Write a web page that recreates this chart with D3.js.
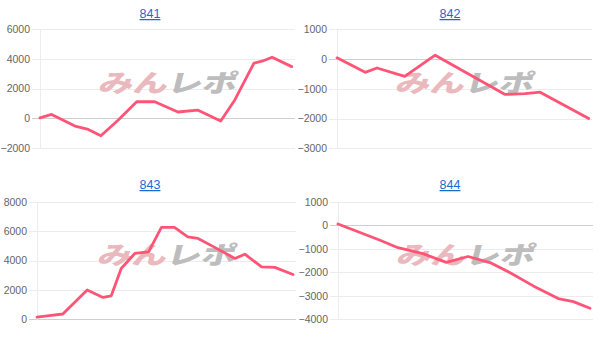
<!DOCTYPE html>
<meta charset="utf-8">
<style>
  body { margin: 0; background: #fff; }
  svg { font-family: "Liberation Sans", Arial, sans-serif; }
  .title { fill: #1a6ad0; font-size: 12.5px; text-decoration: underline; }
  .axis text { fill: #666; font-size: 10.5px; }
  .axis path, .axis line { display: none; }
  .grid { stroke: #ececec; stroke-width: 1; }
  .grid.zero { stroke: #cfcfcf; }
  .yline { stroke: #ececec; }
  .series { fill: none; stroke: #ff5476; stroke-width: 2.8; stroke-linejoin: round; stroke-linecap: round; }
  .wm { font-family: "Noto Sans CJK JP", sans-serif; font-weight: 900; font-size: 30px; }
</style>
<svg width="601" height="349"></svg>
<script src="https://d3js.org/d3.v7.min.js"></script>
<script>

  // chart titles
  var titles = ["841", "842", "843", "844"];

  // x positions (0-100 along the period) and values for each chart
  var x841 = [0, 4.6, 13.9, 19.2, 24.2, 31.1, 38.4, 45.6, 54.8, 62.6, 71.8, 77.4, 85, 88.5, 92.2, 100];
  var v841 = [30, 260, -525, -750, -1180, -120, 1110, 1110, 420, 550, -190, 1230, 3700, 3850, 4100, 3470];

  var x842 = [0, 11.2, 15.9, 26.9, 39, 66.8, 74.7, 80.7, 100];
  var v842 = [40, -447, -300, -580, 130, -1190, -1160, -1113, -2000];

  var x843 = [0, 4.8, 10.1, 19.6, 25.8, 29, 32.9, 38.2, 43.6, 48.6, 53.7, 58.9, 62.9, 68.7, 77.3, 81.2, 87.7, 92.9, 100];
  var v843 = [150, 245, 360, 1990, 1490, 1600, 3460, 4480, 4590, 6250, 6250, 5610, 5500, 4960, 4140, 4430, 3570, 3530, 3050];

  var x844 = [0, 16.7, 23.8, 33.7, 43, 51.6, 60.3, 68.3, 77.5, 87.4, 93.4, 100];
  var v844 = [50, -640, -955, -1210, -1580, -1330, -1590, -2020, -2580, -3120, -3250, -3530];

  // y tick labels
  var ticks841 = [6000, 4000, 2000, 0, -2000];
  var ticks842 = [1000, 0, -1000, -2000, -3000];
  var ticks843 = [8000, 6000, 4000, 2000, 0];
  var ticks844 = [1000, 0, -1000, -2000, -3000, -4000];

  var charts = [
    {title: titles[0], xs: x841, vs: v841, ticks: ticks841, ox: 0,   oy: 0,   left: 40, right: 295, lineEnd: 291.7, top: 29,   bottom: 148,   ty: 18},
    {title: titles[1], xs: x842, vs: v842, ticks: ticks842, ox: 300, oy: 0,   left: 37, right: 292, lineEnd: 288.7, top: 29.3, bottom: 148.3, ty: 18},
    {title: titles[2], xs: x843, vs: v843, ticks: ticks843, ox: 0,   oy: 170, left: 37, right: 296, lineEnd: 293,   top: 31.7, bottom: 149.3, ty: 19},
    {title: titles[3], xs: x844, vs: v844, ticks: ticks844, ox: 300, oy: 170, left: 38, right: 293, lineEnd: 290,   top: 31.7, bottom: 149.3, ty: 19}
  ];

  var svg = d3.select("svg");

  charts.forEach(function(c) {
    var g = svg.append("g")
      .attr("transform", "translate(" + c.ox + "," + c.oy + ")");

    var x = d3.scaleLinear().domain([0, 100]).range([c.left, c.lineEnd]);
    var y = d3.scaleLinear().domain(d3.extent(c.ticks)).range([c.bottom, c.top]);

    // title sits in the middle of the 300px panel
    g.append("text")
      .attr("class", "title")
      .attr("x", 150)
      .attr("y", c.ty)
      .attr("text-anchor", "middle")
      .text(c.title);

    // grid lines, with little tick stubs to the left of the axis
    g.selectAll(".grid")
      .data(c.ticks)
      .enter().append("line")
      .attr("class", function(d) { return d === 0 ? "grid zero" : "grid"; })
      .attr("x1", c.left - 8)
      .attr("x2", c.right)
      .attr("y1", function(d) { return Math.round(y(d)) + 0.5; })
      .attr("y2", function(d) { return Math.round(y(d)) + 0.5; });

    g.append("line")
      .attr("class", "yline")
      .attr("x1", c.left + 0.5).attr("x2", c.left + 0.5)
      .attr("y1", c.top).attr("y2", c.bottom + 1);

    g.append("g")
      .attr("class", "axis")
      .attr("transform", "translate(" + c.left + ",0)")
      .call(d3.axisLeft(y).tickValues(c.ticks).tickSize(0).tickPadding(10).tickFormat(d3.format("d")));

    // watermark
    var cx = (c.left + c.right) / 2, cy = (c.top + c.bottom) / 2;
    var wm = g.append("text")
      .attr("class", "wm")
      .attr("text-anchor", "middle")
      .attr("transform", "translate(" + (cx - 1) + "," + (cy + 3) + ") skewX(-14) scale(1.15,0.82)");
    wm.append("tspan").attr("fill", "#eab9bd").text("みん");
    wm.append("tspan").attr("fill", "#bdbdbd").text("レポ");

    var line = d3.line()
      .x(function(d) { return x(d[0]); })
      .y(function(d) { return y(d[1]); });

    g.append("path")
      .datum(d3.zip(c.xs, c.vs))
      .attr("class", "series")
      .attr("d", line);
  });

</script>
